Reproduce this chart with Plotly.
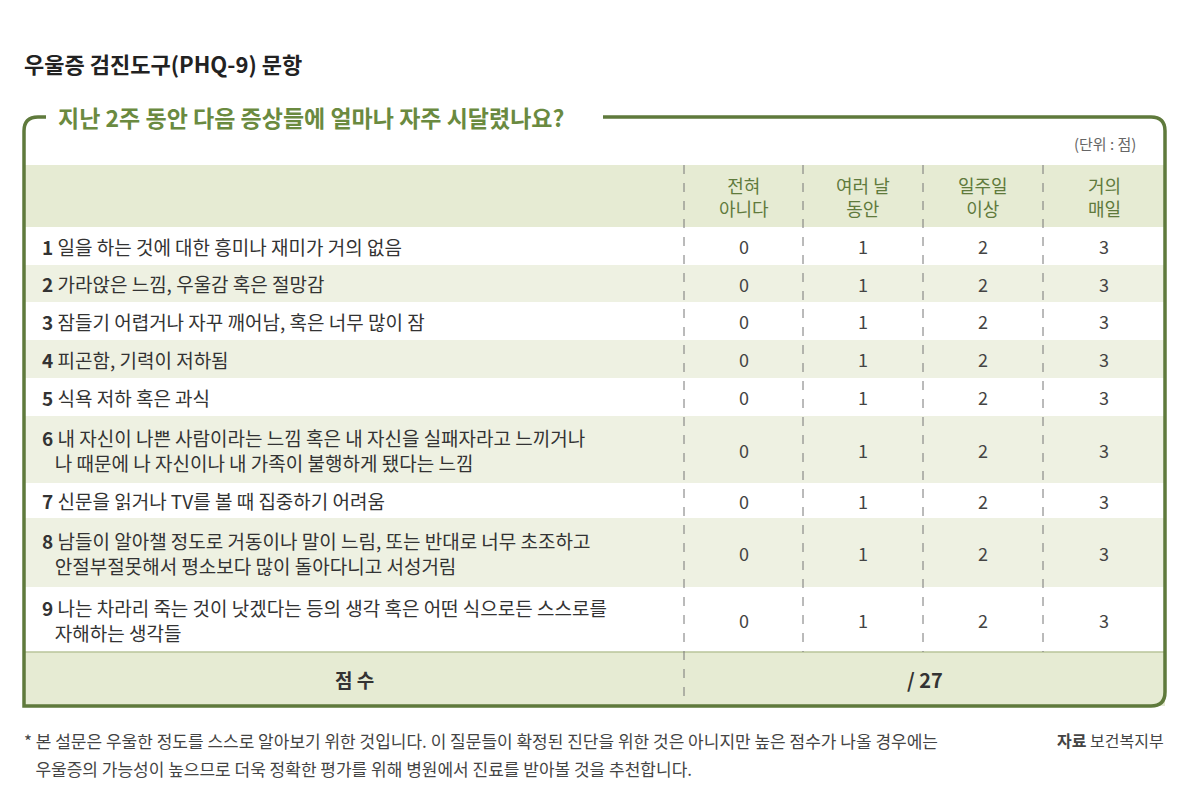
import plotly.graph_objects as go

W, H = 1186, 810
FONT = "Noto Sans CJK KR"

title = "우울증 검진도구(PHQ-9) 문항"
question = "지난 2주 동안 다음 증상들에 얼마나 자주 시달렸나요?"
unit = "(단위 : 점)"
col_headers = ["전혀<br>아니다", "여러 날<br>동안", "일주일<br>이상", "거의<br>매일"]
col_scores = [0, 1, 2, 3]
items = [
    "일을 하는 것에 대한 흥미나 재미가 거의 없음",
    "가라앉은 느낌, 우울감 혹은 절망감",
    "잠들기 어렵거나 자꾸 깨어남, 혹은 너무 많이 잠",
    "피곤함, 기력이 저하됨",
    "식욕 저하 혹은 과식",
    "내 자신이 나쁜 사람이라는 느낌 혹은 내 자신을 실패자라고 느끼거나<br>나 때문에 나 자신이나 내 가족이 불행하게 됐다는 느낌",
    "신문을 읽거나 TV를 볼 때 집중하기 어려움",
    "남들이 알아챌 정도로 거동이나 말이 느림, 또는 반대로 너무 초조하고<br>안절부절못해서 평소보다 많이 돌아다니고 서성거림",
    "나는 차라리 죽는 것이 낫겠다는 등의 생각 혹은 어떤 식으로든 스스로를<br>자해하는 생각들",
]
row_heights = [38, 37, 38, 38, 38, 67, 35, 69, 65]
score_label = "점 수"
score_total = "/ 27"
footnote = ["* 본 설문은 우울한 정도를 스스로 알아보기 위한 것입니다. 이 질문들이 확정된 진단을 위한 것은 아니지만 높은 점수가 나올 경우에는",
            "   우울증의 가능성이 높으므로 더욱 정확한 평가를 위해 병원에서 진료를 받아볼 것을 추천합니다."]
source = "<b>자료</b> 보건복지부"

GREEN = "#5f7a3c"
HEAD_BG = "#e6ebd3"
STRIPE = "#eef1e2"
x0, x1 = 24, 1165
col_edges = [684, 803, 923, 1043, x1]
head_top, head_bot = 165, 227

fig = go.Figure()
shapes, ann = [], []

# header band
shapes.append(dict(type="rect", x0=x0, x1=x1, y0=head_top, y1=head_bot, fillcolor=HEAD_BG, line_width=0, layer="below"))
for i, h in enumerate(col_headers):
    cx = (col_edges[i] + col_edges[i + 1]) / 2
    ann.append(dict(x=cx, y=(head_top + head_bot) / 2, text=h, font=dict(size=18, color="#5f7a3c")))

# body rows
y = head_bot
for i, (txt, rh) in enumerate(zip(items, row_heights)):
    if i % 2 == 1:
        shapes.append(dict(type="rect", x0=x0, x1=x1, y0=y, y1=y + rh, fillcolor=STRIPE, line_width=0, layer="below"))
    cy = y + rh / 2
    ann.append(dict(x=40, y=cy, xanchor="left", align="left",
                    text="<b>%d</b> %s" % (i + 1, txt.replace("<br>", "<br>   ")),
                    font=dict(size=19, color="#333")))
    for j, s in enumerate(col_scores):
        cx = (col_edges[j] + col_edges[j + 1]) / 2
        ann.append(dict(x=cx, y=cy, text=str(s), font=dict(size=18, color="#444")))
    y += rh
body_bot = y
score_bot = 706

# score row
shapes.append(dict(type="rect", x0=x0, x1=x1, y0=body_bot, y1=score_bot, fillcolor=HEAD_BG, line_width=0, layer="below"))
shapes.append(dict(type="line", x0=x0, x1=x1, y0=body_bot, y1=body_bot, line=dict(color="#b9c49a", width=1.5)))
ann.append(dict(x=(x0 + col_edges[0]) / 2, y=(body_bot + score_bot) / 2, text="<b>%s</b>" % score_label, font=dict(size=19, color="#333")))
ann.append(dict(x=(col_edges[0] + x1) / 2, y=(body_bot + score_bot) / 2, text="<b>%s</b>" % score_total, font=dict(size=20, color="#333")))

# dashed separators
for k, xe in enumerate(col_edges[:-1]):
    shapes.append(dict(type="line", x0=xe, x1=xe, y0=head_top, y1=score_bot if k == 0 else body_bot,
                       line=dict(color="#777", width=1, dash="dash")))

# frame
r = 14
top = 117
path = (f"M {x0+22},{top} L {x0+r},{top} Q {x0},{top} {x0},{top+r} L {x0},{score_bot} "
        f"L {x1-r},{score_bot} Q {x1},{score_bot} {x1},{score_bot-r} L {x1},{top+r} "
        f"Q {x1},{top} {x1-r},{top} L 603,{top}")
shapes.append(dict(type="path", path=path, line=dict(color=GREEN, width=3.5)))
ann.append(dict(x=56, y=top, xanchor="left", text="<b>%s</b>" % question, font=dict(size=23, color="#6a8a40")))
ann.append(dict(x=1138, y=143, xanchor="right", text=unit, font=dict(size=15, color="#666")))

ann.append(dict(x=22, y=63, xanchor="left", text="<b>%s</b>" % title, font=dict(size=22, color="#222")))
for i, line in enumerate(footnote):
    ann.append(dict(x=22, y=740 + i * 28, xanchor="left", text=line, font=dict(size=17, color="#444")))
ann.append(dict(x=1166, y=740, xanchor="right", text=source, font=dict(size=16, color="#444")))

for a in ann:
    a.update(xref="x", yref="y", showarrow=False)
    a.setdefault("xanchor", "center")
    a.setdefault("yanchor", "middle")

# page body adds an 8px offset, so shift the ranges to compensate
fig.update_layout(
    width=W, height=H, margin=dict(l=0, r=0, t=0, b=0),
    plot_bgcolor="white", paper_bgcolor="white",
    font=dict(family=FONT),
    xaxis=dict(range=[8, W + 8], visible=False, fixedrange=True),
    yaxis=dict(range=[H + 8, 8], visible=False, fixedrange=True),
    shapes=shapes, annotations=ann, showlegend=False,
)
fig.write_html("out.html")
